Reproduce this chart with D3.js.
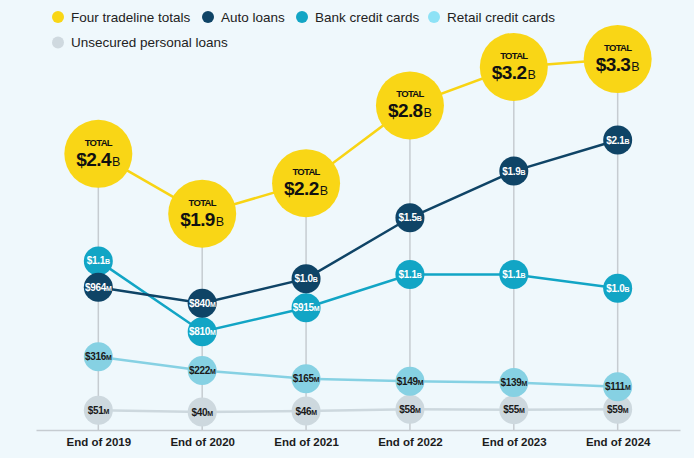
<!DOCTYPE html>
<html><head><meta charset="utf-8">
<script src="https://cdn.jsdelivr.net/npm/d3@7"></script>
<style>
html,body{margin:0;padding:0;background:#eff8fc;}
svg{display:block;font-family:"Liberation Sans",Arial,sans-serif;}
</style></head>
<body>
<svg id="chart" width="694" height="458"></svg>
<script>
// ---- data (values in $ millions) ----
const years = ["End of 2019","End of 2020","End of 2021","End of 2022","End of 2023","End of 2024"];
const totals = [2420, 1890, 2160, 2849, 3190, 3260];
const autoLoans = [964, 840, 1030, 1500, 1860, 2100];
const bankCards = [1120, 810, 915, 1060, 1060, 1000];
const retailCards = [316, 222, 165, 149, 139, 111];
const unsecured = [51, 40, 46, 58, 55, 59];
const legendNames = ["Four tradeline totals","Auto loans","Bank credit cards","Retail credit cards","Unsecured personal loans"];

const svg = d3.select("#chart");
const W = 694, H = 458, axisY = 430;

svg.append("rect").attr("width",W).attr("height",H).attr("fill","#eff8fc");

const x = d3.scalePoint().domain(years).range([36, 680]).padding(0.6);

// each series sits in its own vertical band
const series = [
  {name:"Unsecured personal loans", values:unsecured, color:"#cdd8de", text:"#1a1a1a", r:14.5,
   y:d3.scaleLinear().domain([40,60]).range([412,409])},
  {name:"Retail credit cards", values:retailCards, color:"#86d1e3", text:"#1a1a1a", r:14.5,
   y:d3.scaleLinear().domain([111,316]).range([386.7,356.7])},
  {name:"Bank credit cards", values:bankCards, color:"#12a5c5", text:"#ffffff", r:14.5,
   y:d3.scaleLinear().domain([810,1000]).range([331.7,288.3])},
  {name:"Auto loans", values:autoLoans, color:"#0f4466", text:"#ffffff", r:14.5,
   y:d3.scaleLinear().domain([840,2100]).range([303.3,140])}
];
const totY = d3.scaleLinear().domain([1890,3260]).range([213.7,59]);

// gridlines
svg.append("g").selectAll("line").data(years).join("line")
  .attr("x1",d=>x(d)).attr("x2",d=>x(d))
  .attr("y1",(d,i)=>totY(totals[i])).attr("y2",axisY)
  .attr("stroke","#c6ccd1").attr("stroke-width",1.5);

// axis
const ax = svg.append("g").attr("transform",`translate(0,${axisY})`)
  .call(d3.axisBottom(x).tickSizeInner(0).tickSizeOuter(0).tickPadding(8));
ax.select(".domain").attr("stroke","#c6ccd1").attr("stroke-width",1.5);
ax.selectAll(".tick text").attr("font-size","11.5px").attr("font-weight","bold")
  .attr("fill","#1c1c1c").attr("font-family","'Liberation Sans',Arial,sans-serif");

function fmtParts(v){
  if (v >= 1000) return ["$" + (v/1000).toFixed(1), "B"];
  return ["$" + v, "M"];
}

// lines
const lineOf = s => d3.line().x((d,i)=>x(years[i])).y(d=>s.y(d));
series.forEach(s=>{
  svg.append("path").datum(s.values).attr("d",lineOf(s)).attr("fill","none")
    .attr("stroke",s.color).attr("stroke-width",2.5);
});
svg.append("path").datum(totals)
  .attr("d",d3.line().x((d,i)=>x(years[i])).y(d=>totY(d)))
  .attr("fill","none").attr("stroke","#f8d414").attr("stroke-width",2.5);

// small circles
series.forEach(s=>{
  const g = svg.append("g").selectAll("g").data(s.values).join("g")
    .attr("transform",(d,i)=>`translate(${x(years[i])},${s.y(d)})`);
  g.append("circle").attr("r",s.r).attr("fill",s.color);
  const t = g.append("text").attr("text-anchor","middle").attr("y",3.5)
    .attr("fill",s.text).attr("font-weight","bold").attr("letter-spacing","-0.3");
  t.append("tspan").attr("font-size","10px").text(d=>fmtParts(d)[0]);
  t.append("tspan").attr("font-size","7px").text(d=>fmtParts(d)[1]);
});

// totals circles
const tg = svg.append("g").selectAll("g").data(totals).join("g")
  .attr("transform",(d,i)=>`translate(${x(years[i])},${totY(d)})`);
tg.append("circle").attr("r",34).attr("fill","#f9d616");
tg.append("text").attr("text-anchor","middle").attr("y",-8)
  .attr("font-size","9.5px").attr("font-weight","bold").attr("letter-spacing","-0.7")
  .attr("fill","#111").text("TOTAL");
const tt = tg.append("text").attr("text-anchor","middle").attr("y",12).attr("fill","#111");
tt.append("tspan").attr("font-size","19px").attr("font-weight","bold").attr("letter-spacing","-0.6")
  .text(d=>fmtParts(d)[0]);
tt.append("tspan").attr("font-size","12.5px").attr("dx","1").text(d=>fmtParts(d)[1]);

// legend
const legColors = ["#f9d616","#0f4466","#12a5c5","#8ee2f6","#cfd9df"];
const legPos = [[58,17],[208,17],[302,17],[434,17],[58,42.5]];
const lg = svg.append("g").selectAll("g").data(legendNames).join("g")
  .attr("transform",(d,i)=>`translate(${legPos[i][0]},${legPos[i][1]})`);
lg.append("circle").attr("r",6).attr("fill",(d,i)=>legColors[i]);
lg.append("text").attr("x",13).attr("y",4.8).attr("font-size","13.5px").attr("fill","#222").text(d=>d);
</script>
</body></html>
